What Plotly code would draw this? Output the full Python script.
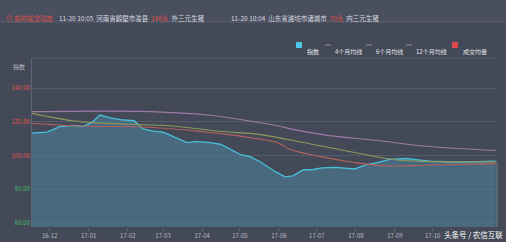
import plotly.graph_objects as go

# ---- data ----
index_dates = ["2016-11-17","2016-11-29","2016-12-09","2016-12-20","2016-12-27","2017-01-03","2017-01-10",
               "2017-01-17","2017-01-26","2017-02-06","2017-02-13","2017-02-21","2017-03-01","2017-03-08",
               "2017-03-20","2017-03-27","2017-04-06","2017-04-16","2017-04-24","2017-05-02","2017-05-09",
               "2017-05-17","2017-05-29","2017-06-06","2017-06-12","2017-06-20","2017-06-28","2017-07-05",
               "2017-07-16","2017-07-31","2017-08-09","2017-08-18","2017-08-28","2017-09-10","2017-09-21",
               "2017-09-29","2017-10-12","2017-10-22","2017-11-05","2017-11-20"]
index_vals = [113.2,113.8,117.1,117.8,117.2,119.3,124.0,122.5,121.3,120.6,115.7,114.5,113.8,111.6,
              107.6,108.2,107.8,106.6,103.3,100.3,99.3,96.3,90.4,87.3,87.9,91.4,91.7,92.6,
              92.9,92.0,94.4,95.7,97.7,98.2,97.3,96.7,96.3,96.1,96.3,96.6]

ma4_dates = ["2016-11-17","2017-01-02","2017-02-10","2017-04-03","2017-05-10","2017-05-31","2017-06-10",
             "2017-07-10","2017-08-03","2017-08-29","2017-09-24","2017-11-20"]
ma4_vals = [119.0,117.3,117.0,114.0,110.5,107.5,103.5,98.5,95.5,93.8,94.2,95.2]

ma6_dates = ["2016-11-17","2016-12-19","2017-01-10","2017-03-08","2017-04-17","2017-05-16","2017-06-25",
             "2017-08-03","2017-08-29","2017-09-24","2017-11-20"]
ma6_vals = [125.0,120.6,119.2,117.5,114.2,112.5,107.0,101.3,97.8,96.5,96.3]

ma12_dates = ["2016-11-17","2017-01-10","2017-02-19","2017-04-05","2017-05-11","2017-06-01","2017-06-12",
              "2017-07-11","2017-08-17","2017-09-26","2017-11-20"]
ma12_vals = [126.0,126.3,126.0,124.0,120.2,117.5,115.5,111.8,109.0,105.5,103.0]

x_ticks = ["2016-12-01","2017-01-01","2017-02-01","2017-03-01","2017-04-01","2017-05-01",
           "2017-06-01","2017-07-01","2017-08-01","2017-09-01","2017-10-01"]
x_tick_labels = ["16-12","17-01","17-02","17-03","17-04","17-05","17-06","17-07","17-08","17-09","17-10"]

y_ticks = [60, 80, 100, 120, 140]
y_tick_labels = ["60.00", "80.00", "100.00", "120.00", "140.00"]
y_tick_colors = ["#3fbf6a", "#3fbf6a", "#e0574f", "#e0574f", "#e0574f"]

legend_names = ["指数", "4个月均线", "6个月均线", "12个月均线", "成交均量"]

header_left = ["11-20 10:05", "河南省鹤壁市浚县", "140头", "外三元生猪"]
header_right = ["11-20 10:04", "山东省潍坊市诸城市", "70头", "内三元生猪"]

BG = "#444957"
FONT = "Noto Sans CJK SC"
C_IDX = "#46c1dc"
C4, C6, C12 = "#b8625e", "#8e9a5c", "#9f7aa6"

# geometry helpers (plot area: x 32..497 px, y 58..227 px)
L, R, T, B, W, H = 32, 9, 58, 15, 506, 242
PW, PH = W - L - R, H - T - B
def px(x): return (x - L) / PW
def py(y): return (H - B - y) / PH

fig = go.Figure()
fig.add_trace(go.Scatter(x=index_dates, y=index_vals, name=legend_names[0], mode="lines",
                         line=dict(color=C_IDX, width=1.3), fill="tozeroy",
                         fillcolor="rgba(78,130,155,0.58)"))
fig.add_trace(go.Scatter(x=ma4_dates, y=ma4_vals, name=legend_names[1], mode="lines",
                         line=dict(color=C4, width=1.1, shape="spline")))
fig.add_trace(go.Scatter(x=ma6_dates, y=ma6_vals, name=legend_names[2], mode="lines",
                         line=dict(color=C6, width=1.1, shape="spline")))
fig.add_trace(go.Scatter(x=ma12_dates, y=ma12_vals, name=legend_names[3], mode="lines",
                         line=dict(color=C12, width=1.1, shape="spline")))

fig.update_layout(
    width=W, height=H,
    margin=dict(l=L, r=R, t=T, b=B),
    paper_bgcolor=BG, plot_bgcolor=BG,
    font=dict(family=FONT, size=6, color="#c8ccd4"),
    showlegend=False,
    xaxis=dict(type="date", range=["2016-11-17", "2017-11-21"], tickvals=x_ticks, ticktext=x_tick_labels,
               showgrid=False, zeroline=False, showline=False, automargin=False,
               ticks="outside", ticklen=3, tickcolor="#666b78", ticklabelstandoff=0,
               tickfont=dict(size=6, color="#b8bcc6")),
    yaxis=dict(range=[57.6, 157.8], tickvals=y_ticks, automargin=False,
               ticktext=[f"<span style='color:{c}'>{t}</span>" for t, c in zip(y_tick_labels, y_tick_colors)],
               showgrid=True, gridcolor="#565c6b", gridwidth=1, zeroline=False,
               showline=True, linecolor="#606675", linewidth=1,
               tickfont=dict(size=6)),
)

# header bar
fig.add_shape(type="rect", xref="paper", yref="paper", x0=px(0), x1=px(W),
              y0=py(22), y1=py(0), fillcolor="#4a4f5d", line_width=0, layer="below")
fig.add_shape(type="line", xref="paper", yref="paper", x0=px(0), x1=px(W),
              y0=py(22), y1=py(22), line=dict(color="#5c6170", width=1))
fig.add_shape(type="line", xref="paper", yref="paper", x0=0, x1=1,
              y0=1, y1=1, line=dict(color="#565c6b", width=1))
fig.add_shape(type="line", xref="paper", yref="paper", x0=1, x1=1,
              y0=0, y1=py(161), line=dict(color="#6a8596", width=1))

hy = py(11)
fig.add_annotation(text="⊙ 实时成交动态", xref="paper", yref="paper", x=px(4), y=hy,
                   xanchor="left", showarrow=False, font=dict(size=6.5, color="#e0504c"))
fig.add_annotation(text=(f"{header_left[0]}  {header_left[1]}  <span style='color:#e0504c'>{header_left[2]}</span>  {header_left[3]}"),
                   xref="paper", yref="paper", x=px(57), y=hy, xanchor="left", showarrow=False,
                   font=dict(size=6.5, color="#d8dbe2"))
fig.add_annotation(text=(f"{header_right[0]}  {header_right[1]}  <span style='color:#e0504c'>{header_right[2]}</span>  {header_right[3]}"),
                   xref="paper", yref="paper", x=px(229), y=hy, xanchor="left", showarrow=False,
                   font=dict(size=6.5, color="#d8dbe2"))

# custom legend
ly = py(45)
sq = 3 / PH
fig.add_shape(type="rect", xref="paper", yref="paper", x0=px(296), x1=px(302), y0=ly - sq, y1=ly + sq,
              fillcolor="#4fc3e8", line_width=0)
fig.add_shape(type="rect", xref="paper", yref="paper", x0=px(452), x1=px(458), y0=ly - sq, y1=ly + sq,
              fillcolor="#e0474c", line_width=0)
for x0, c in [(325, "#8a8f9a"), (366, "#8a8f9a"), (406, "#8a8f9a")]:
    fig.add_shape(type="line", xref="paper", yref="paper", x0=px(x0), x1=px(x0 + 6), y0=ly, y1=ly,
                  line=dict(color=c, width=1))
for xt, name in zip([305, 333, 374, 414, 461], legend_names):
    fig.add_annotation(text=name, xref="paper", yref="paper", x=px(xt), y=ly, xanchor="left",
                       showarrow=False, font=dict(size=6, color="#e6e8ec"))

fig.add_annotation(text="指数", xref="paper", yref="paper", x=px(27), y=py(60), xanchor="right",
                   showarrow=False, font=dict(size=6, color="#b8bcc6"))
fig.add_annotation(text="头条号 / 农信互联", xref="paper", yref="paper", x=px(505), y=py(234),
                   xanchor="right", yanchor="middle", showarrow=False, font=dict(size=7.5, color="#ffffff"))

fig.write_html("out.html")
